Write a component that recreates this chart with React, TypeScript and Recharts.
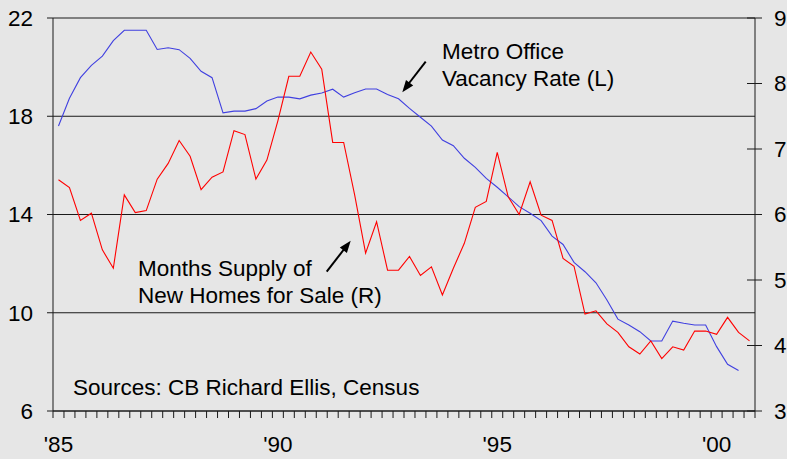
import React from "react";
import {
  LineChart,
  Line,
  XAxis,
  YAxis,
  CartesianGrid,
} from "recharts";

// quarterly, starting 1985 Q1
const VACANCY = [
  17.6, 18.73, 19.57, 20.07, 20.45, 21.08, 21.5, 21.5, 21.5, 20.72,
  20.79, 20.71, 20.36, 19.83, 19.57, 18.14, 18.21, 18.21, 18.31, 18.62,
  18.78, 18.78, 18.71, 18.86, 18.95, 19.1, 18.78, 18.96, 19.11, 19.11,
  18.89, 18.71, 18.32, 17.96, 17.6, 17.03, 16.8, 16.29, 15.92, 15.47,
  15.11, 14.72, 14.32, 14.05, 13.75, 13.12, 12.78, 12.05, 11.67, 11.22,
  10.52, 9.74, 9.5, 9.23, 8.85, 8.85, 9.66, 9.57, 9.5, 9.5,
  8.62, 7.9, 7.65,
];

const SUPPLY = [
  6.53, 6.41, 5.91, 6.02, 5.46, 5.18, 6.3, 6.03, 6.06, 6.54,
  6.78, 7.13, 6.89, 6.38, 6.57, 6.65, 7.28, 7.22, 6.54, 6.83,
  7.43, 8.11, 8.11, 8.48, 8.22, 7.1, 7.1, 6.3, 5.41, 5.89,
  5.15, 5.15, 5.36, 5.07, 5.2, 4.77, 5.18, 5.56, 6.11, 6.2,
  6.95, 6.27, 6.0, 6.5, 5.99, 5.91, 5.33, 5.21, 4.48, 4.53,
  4.33, 4.2, 3.98, 3.87, 4.07, 3.8, 3.98, 3.93, 4.22, 4.22,
  4.17, 4.43, 4.2, 4.07,
];

const YEAR_LABELS = ["'85", "'90", "'95", "'00"];
const LEFT_TICKS = [6, 10, 14, 18, 22];
const RIGHT_TICKS = [3, 4, 5, 6, 7, 8, 9];
const QUARTERS = 64;

const data = SUPPLY.map((s, i) => ({
  x: i + 0.5,
  vacancy: VACANCY[i],
  supply: s,
}));

const quarterTicks: number[] = [];
for (let q = 0; q <= QUARTERS; q++) quarterTicks.push(q);

const INK = "#1a1a1a";
const FONT = "'Liberation Sans', Arial, sans-serif";
const FS = 22.5;

const XTick = (props: any) => {
  const { x, y, payload } = props;
  const v = payload.value;
  const label = v % 20 === 0 ? YEAR_LABELS[v / 20] : null;
  return (
    <g>
      <line x1={x} x2={x} y1={y} y2={y + 7} stroke={INK} />
      {label && (
        <text x={x + 5.5} y={y + 41} textAnchor="middle" fontSize={FS} fill="#000">
          {label}
        </text>
      )}
    </g>
  );
};

const RightTick = (props: any) => {
  const { x, y, payload } = props;
  return (
    <g>
      <line x1={x - 8} x2={x + 7} y1={y} y2={y} stroke={INK} />
      <text x={x + 19} y={y} dy="0.355em" textAnchor="start" fontSize={FS} fill="#000">
        {payload.value}
      </text>
    </g>
  );
};

export default function App() {
  return (
    <div
      style={{
        position: "absolute",
        left: 0,
        top: 0,
        width: 787,
        height: 459,
        background: "#e6e6e6",
        fontFamily: FONT,
      }}
    >
      <LineChart
        width={787}
        height={459}
        data={data}
        margin={{ top: 18, right: 0, bottom: 0, left: 0 }}
        style={{ fontFamily: FONT }}
      >
        <CartesianGrid
          yAxisId="left"
          vertical={false}
          stroke={INK}
          strokeOpacity={1}
        />
        <XAxis
          dataKey="x"
          type="number"
          domain={[0, QUARTERS]}
          ticks={quarterTicks}
          interval={0}
          height={48}
          tickSize={0}
          tickMargin={0}
          tickLine={false}
          stroke={INK}
          tick={<XTick />}
        />
        <YAxis
          yAxisId="left"
          orientation="left"
          domain={[6, 22]}
          ticks={LEFT_TICKS}
          width={53}
          tickSize={6}
          tickMargin={14}
          stroke={INK}
          tick={{ fill: "#000", fontSize: FS }}
        />
        <YAxis
          yAxisId="right"
          orientation="right"
          domain={[3, 9]}
          ticks={RIGHT_TICKS}
          width={32}
          tickSize={0}
          tickMargin={0}
          tickLine={false}
          stroke={INK}
          tick={<RightTick />}
        />
        <Line
          yAxisId="left"
          dataKey="vacancy"
          stroke="#4040e0"
          strokeWidth={1.1}
          dot={false}
          isAnimationActive={false}
        />
        <Line
          yAxisId="right"
          dataKey="supply"
          stroke="#ff0000"
          strokeWidth={1.1}
          dot={false}
          isAnimationActive={false}
        />
      </LineChart>
      <svg
        width={787}
        height={459}
        style={{ position: "absolute", left: 0, top: 0, pointerEvents: "none" }}
      >
        <g fontSize={FS} fill="#000" fontFamily={FONT}>
          <text x={442} y={59}>Metro Office</text>
          <text x={442} y={86}>Vacancy Rate (L)</text>
          <text x={138} y={276}>Months Supply of</text>
          <text x={138} y={303}>New Homes for Sale (R)</text>
          <text x={73} y={395}>Sources: CB Richard Ellis, Census</text>
        </g>
        <line x1={425.7} y1={61.7} x2={408} y2={84.5} stroke="#000" strokeWidth={2} />
        <polygon points="402.3,92.3 413.2,85.5 406.0,80.1" fill="#000" />
        <line x1={326.7} y1={271.7} x2={345} y2={248} stroke="#000" strokeWidth={2} />
        <polygon points="350.7,240.7 346.9,253.0 339.8,247.4" fill="#000" />
      </svg>
    </div>
  );
}
